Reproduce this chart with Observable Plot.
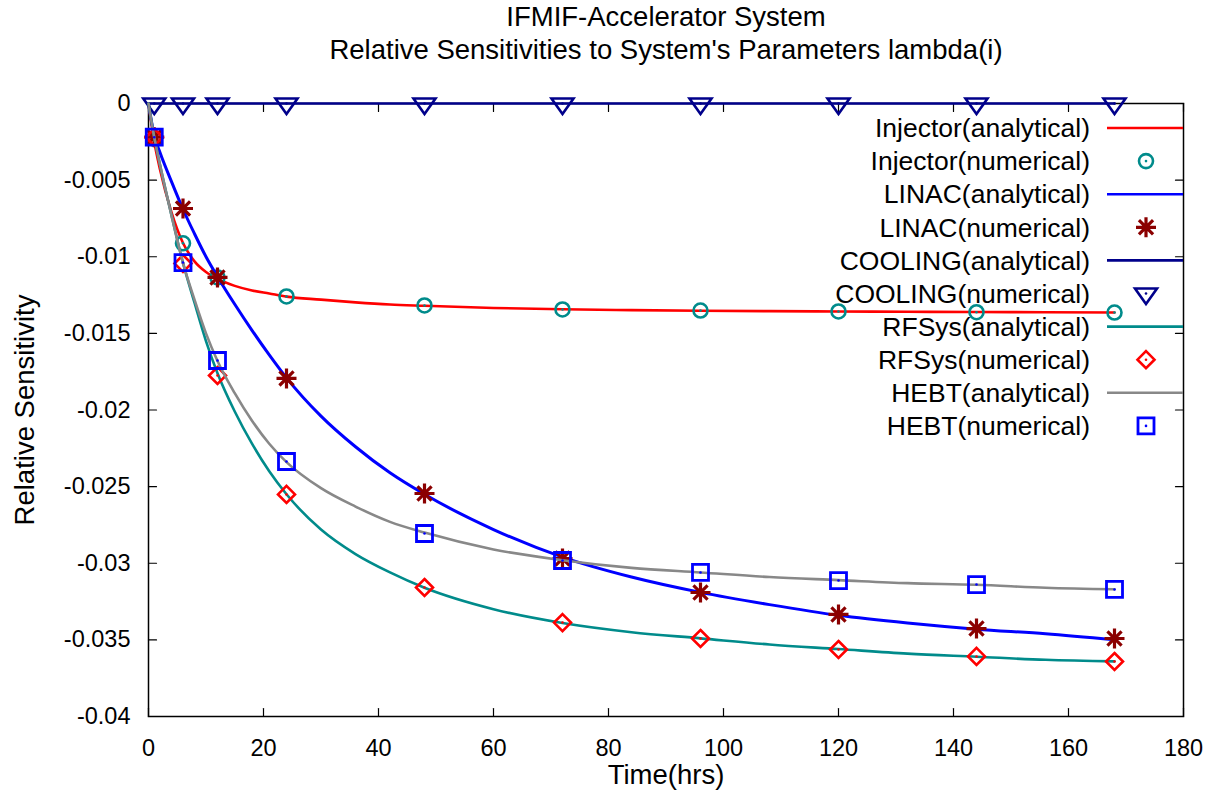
<!DOCTYPE html>
<html>
<head>
<meta charset="utf-8">
<script src="https://cdn.jsdelivr.net/npm/d3@7"></script>
<script src="https://cdn.jsdelivr.net/npm/@observablehq/plot@0.6"></script>
<style>
  body { margin: 0; background: #fff; }
  #chart { width: 1222px; height: 796px; }
  #chart svg { font-family: "Liberation Sans", Arial, sans-serif; }
</style>
</head>
<body>
<div id="chart"></div>
<script>
// Sampling times (hours) of the numerical solution
const timeNumerical = [1, 6, 12, 24, 48, 72, 96, 120, 144, 168];
const injectorNumerical = [-0.0023, -0.00912, -0.01135, -0.01259, -0.01318, -0.01344, -0.01351, -0.01357, -0.01362, -0.01364];
const linacNumerical    = [-0.0022, -0.00685, -0.01135, -0.01794, -0.02545, -0.02969, -0.03191, -0.03334, -0.03426, -0.03491];
const coolingNumerical  = [0, 0, 0, 0, 0, 0, 0, 0, 0, 0];
const rfsysNumerical    = [-0.0022, -0.01044, -0.01775, -0.02551, -0.03158, -0.03387, -0.03491, -0.03563, -0.03608, -0.03641];
const hebtNumerical     = [-0.0022, -0.01038, -0.01677, -0.02336, -0.02806, -0.02982, -0.0306, -0.03113, -0.03139, -0.03171];

// Analytical solution, evaluated on a finer time grid
const timeAnalytical = [0, 1, 2, 4, 6, 8, 10, 12, 15, 18, 21, 24, 30, 36, 42, 48, 60, 72, 84, 96, 108, 120, 132, 144, 156, 168];
const injectorAnalytical = [0, -0.0025, -0.0043, -0.0071, -0.0091, -0.0103, -0.0110, -0.01145, -0.0119, -0.0122, -0.0124, -0.0126, -0.0128, -0.01298, -0.01312, -0.0132, -0.01334, -0.01343, -0.01348, -0.01352, -0.01355, -0.01357, -0.01359, -0.01361, -0.01362, -0.01364];
const linacAnalytical    = [0, -0.0021, -0.0032, -0.0051, -0.0069, -0.0085, -0.0100, -0.0113, -0.0131, -0.0148, -0.0164, -0.0179, -0.0204, -0.0224, -0.0241, -0.0255, -0.0278, -0.0296, -0.0309, -0.0319, -0.0327, -0.0334, -0.0339, -0.0343, -0.0346, -0.0350];
const coolingAnalytical  = [0, 0, 0, 0, 0, 0, 0, 0, 0, 0, 0, 0, 0, 0, 0, 0, 0, 0, 0, 0, 0, 0, 0, 0, 0, 0];
const rfsysAnalytical    = [0, -0.0022, -0.0040, -0.0073, -0.0104, -0.0130, -0.0155, -0.0176, -0.0201, -0.0222, -0.0240, -0.0255, -0.0278, -0.0294, -0.0306, -0.0316, -0.0330, -0.0339, -0.0345, -0.0349, -0.0353, -0.0356, -0.0359, -0.0361, -0.0363, -0.0364];
const hebtAnalytical     = [0, -0.0022, -0.0040, -0.0073, -0.0104, -0.0128, -0.0150, -0.0168, -0.0189, -0.0207, -0.0222, -0.0234, -0.0251, -0.0263, -0.0273, -0.0280, -0.0291, -0.0298, -0.0303, -0.0306, -0.0309, -0.0311, -0.0313, -0.0314, -0.0316, -0.0317];

const xTicks = [0, 20, 40, 60, 80, 100, 120, 140, 160, 180];
const yTicks = [0, -0.005, -0.01, -0.015, -0.02, -0.025, -0.03, -0.035, -0.04];
const yTickLabels = ["0", "-0.005", "-0.01", "-0.015", "-0.02", "-0.025", "-0.03", "-0.035", "-0.04"];

const titleLines = ["IFMIF-Accelerator System", "Relative Sensitivities to System's Parameters lambda(i)"];
const xLabel = "Time(hrs)";
const yLabel = "Relative Sensitivity";

const FONT = 27.5;
const TICK_FONT = 23.5;
const KEY_FONT = 26.5;

// Point glyphs drawn at a radius derived from the dot's size
const glyph = (fn) => ({draw(ctx, size) { fn(ctx, Math.sqrt(size / Math.PI)); }});
const openCircle = glyph((c, r) => { c.moveTo(r, 0); c.arc(0, 0, r, 0, 2 * Math.PI); });
const starGlyph = glyph((c, r) => {
  for (const a of [0, 45, 90, 135]) {
    const dx = r * Math.cos(a * Math.PI / 180), dy = r * Math.sin(a * Math.PI / 180);
    c.moveTo(-dx, -dy); c.lineTo(dx, dy);
  }
});
const triangleDown = glyph((c, r) => { c.moveTo(-r, -0.45 * r); c.lineTo(r, -0.45 * r); c.lineTo(0, 0.95 * r); c.closePath(); });
const diamondGlyph = glyph((c, r) => { c.moveTo(0, -r); c.lineTo(r, 0); c.lineTo(0, r); c.lineTo(-r, 0); c.closePath(); });
const squareGlyph = glyph((c, r) => { c.rect(-r, -r, 2 * r, 2 * r); });

const series = [
  {name: "Injector", ana: injectorAnalytical, num: injectorNumerical, line: "#ff0000", point: "#008b8b", symbol: openCircle, r: 7, sw: 2.6, dot: true},
  {name: "LINAC", ana: linacAnalytical, num: linacNumerical, line: "#0000ff", point: "#8b0000", symbol: starGlyph, r: 10, sw: 3.2, dot: false},
  {name: "COOLING", ana: coolingAnalytical, num: coolingNumerical, line: "#00008b", point: "#00008b", symbol: triangleDown, r: 11, sw: 2.6, dot: true},
  {name: "RFSys", ana: rfsysAnalytical, num: rfsysNumerical, line: "#008b8b", point: "#ff0000", symbol: diamondGlyph, r: 8.5, sw: 2.6, dot: true},
  {name: "HEBT", ana: hebtAnalytical, num: hebtNumerical, line: "#888888", point: "#0000ff", symbol: squareGlyph, r: 8, sw: 2.8, dot: true}
];

// Inward tick stroke used on all four sides of the frame
const tickShape = {draw(ctx, l) { ctx.moveTo(0, 0); ctx.lineTo(0, -l); }};

const marks = [Plot.frame({stroke: "black", strokeWidth: 1.5})];
for (const side of [["left", 90], ["right", -90]]) {
  marks.push(Plot.vector(yTicks, {y: d => d, frameAnchor: side[0], rotate: side[1], length: 8, anchor: "start", shape: tickShape, stroke: "black", strokeWidth: 1.2}));
}
for (const side of [["bottom", 0], ["top", 180]]) {
  marks.push(Plot.vector(xTicks, {x: d => d, frameAnchor: side[0], rotate: side[1], length: 8, anchor: "start", shape: tickShape, stroke: "black", strokeWidth: 1.2}));
}
marks.push(
  Plot.axisY(yTicks, {label: null, tickSize: 0, tickPadding: 18, fontSize: TICK_FONT, tickFormat: (d, i) => yTickLabels[i]}),
  Plot.axisX(xTicks, {label: null, tickSize: 0, tickPadding: 23, fontSize: TICK_FONT, tickFormat: d => String(d)})
);

for (const s of series) {
  const ana = timeAnalytical.map((t, i) => ({t, v: s.ana[i]}));
  const num = timeNumerical.map((t, i) => ({t, v: s.num[i]}));
  marks.push(Plot.line(ana, {x: "t", y: "v", stroke: s.line, strokeWidth: s.name === "LINAC" ? 3 : 2.6, curve: "monotone-x"}));
  marks.push(Plot.dot(num, {x: "t", y: "v", symbol: s.symbol, r: s.r, stroke: s.point, strokeWidth: s.sw, fill: "none"}));
  if (s.dot) marks.push(Plot.dot(num, {x: "t", y: "v", r: 1.3, fill: s.point, stroke: "none"}));
}

marks.push(
  Plot.text([titleLines[0]], {frameAnchor: "top", lineAnchor: "middle", dy: -86, fontSize: FONT, text: d => d}),
  Plot.text([titleLines[1]], {frameAnchor: "top", lineAnchor: "middle", dy: -53, fontSize: FONT, text: d => d}),
  Plot.text([xLabel], {frameAnchor: "bottom", lineAnchor: "middle", dy: 59, fontSize: FONT, text: d => d}),
  Plot.text([yLabel], {frameAnchor: "left", textAnchor: "middle", lineAnchor: "middle", dx: -123, rotate: -90, fontSize: FONT, text: d => d})
);

const chart = Plot.plot({
  width: 1222,
  height: 796,
  marginLeft: 148,
  marginRight: 39,
  marginTop: 103,
  marginBottom: 80,
  x: {domain: [0, 180]},
  y: {domain: [-0.04, 0]},
  style: {fontFamily: "'Liberation Sans', Arial, sans-serif", color: "black", background: "white"},
  marks
});

// Key in the upper right: label, then a line or glyph sample
const key = d3.select(chart).append("g").attr("class", "key");
const keyRows = series.flatMap(s => [
  {label: `${s.name}(analytical)`, kind: "line", s},
  {label: `${s.name}(numerical)`, kind: "point", s}
]);
keyRows.forEach((row, i) => {
  const y = 128 + i * 33.1;
  key.append("text").attr("x", 1090).attr("y", y).attr("dy", "0.35em")
    .attr("text-anchor", "end").attr("font-size", KEY_FONT).attr("fill", "black").text(row.label);
  if (row.kind === "line") {
    key.append("line").attr("x1", 1107).attr("x2", 1183).attr("y1", y).attr("y2", y)
      .attr("stroke", row.s.line).attr("stroke-width", 2.6);
  } else {
    const r = row.s.r;
    key.append("path").attr("transform", `translate(1146,${y})`)
      .attr("d", d3.symbol(row.s.symbol, Math.PI * r * r)())
      .attr("fill", "none").attr("stroke", row.s.point).attr("stroke-width", row.s.sw);
    if (row.s.dot) key.append("circle").attr("cx", 1146).attr("cy", y).attr("r", 1.3).attr("fill", row.s.point);
  }
});

document.getElementById("chart").appendChild(chart);
</script>
</body>
</html>
